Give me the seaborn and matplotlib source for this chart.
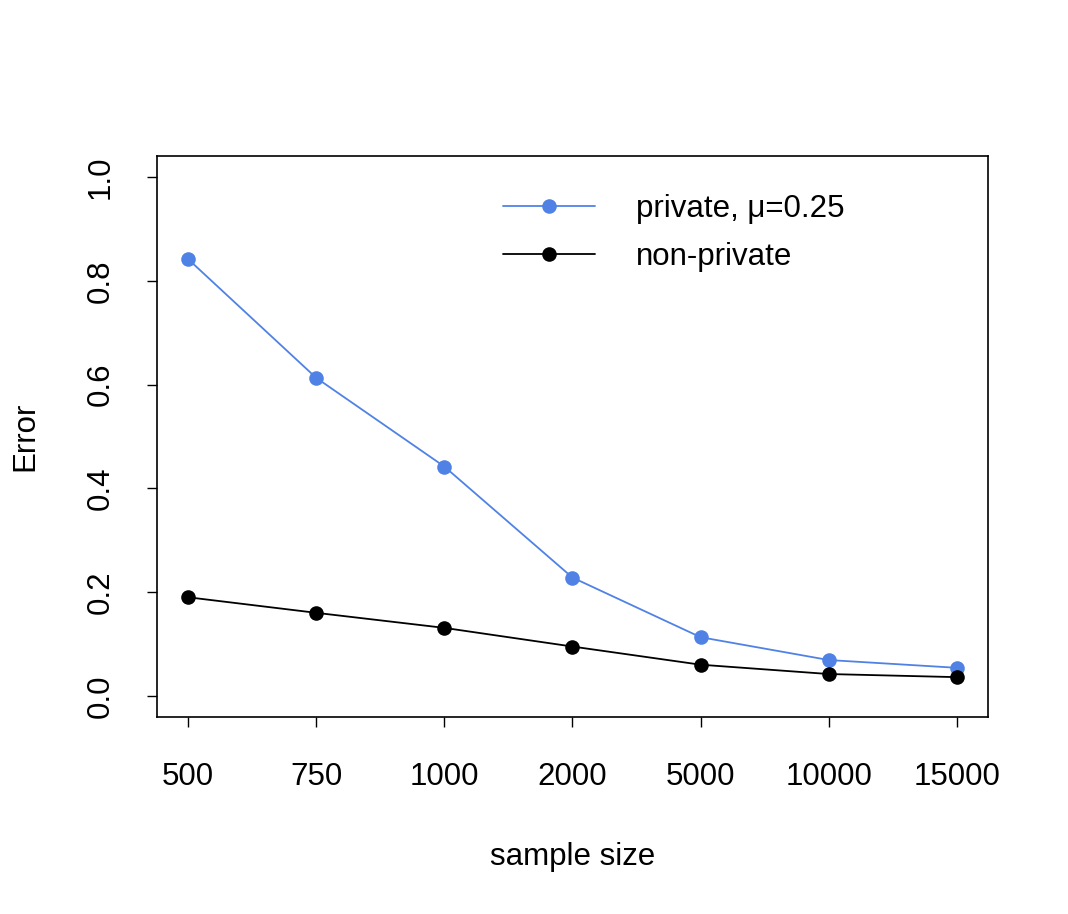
import matplotlib
matplotlib.use("Agg")
import matplotlib.pyplot as plt
import seaborn as sns
import pandas as pd

# values
sample_sizes = ["500", "750", "1000", "2000", "5000", "10000", "15000"]
private_err = [0.842, 0.613, 0.442, 0.228, 0.113, 0.069, 0.054]
nonprivate_err = [0.190, 0.160, 0.131, 0.095, 0.060, 0.042, 0.036]
series_names = ["private, μ=0.25", "non-private"]
series_colors = ["#5082E6", "black"]

sns.set_style("ticks")
plt.rcParams["font.family"] = ["Liberation Sans", "DejaVu Sans"]
plt.rcParams["text.color"] = "black"

FS = 22.5

pos = list(range(1, len(sample_sizes) + 1))
df = pd.concat([
    pd.DataFrame({"pos": pos, "err": private_err, "series": series_names[0]}),
    pd.DataFrame({"pos": pos, "err": nonprivate_err, "series": series_names[1]}),
])

fig = plt.figure(figsize=(10.68, 9.14), dpi=100)
ax = fig.add_axes([0.147, 0.216, 0.778, 0.613])

sns.lineplot(
    data=df, x="pos", y="err", hue="series",
    palette=dict(zip(series_names, series_colors)),
    marker="o", markersize=10.5, markeredgewidth=0,
    linewidth=1.3, ax=ax,
)

ax.set_xlim(0.758, 7.242)
ax.set_ylim(-0.04, 1.04)
ax.set_xticks(pos)
ax.set_xticklabels(sample_sizes)
ax.set_yticks([0.0, 0.2, 0.4, 0.6, 0.8, 1.0])
ax.set_yticklabels(["0.0", "0.2", "0.4", "0.6", "0.8", "1.0"], rotation=90, va="center")
ax.tick_params(axis="both", labelsize=FS, length=7, width=1, colors="black")
ax.tick_params(axis="x", pad=26)
ax.tick_params(axis="y", pad=23)
for sp in ax.spines.values():
    sp.set_visible(True)
    sp.set_linewidth(1.2)
    sp.set_color("black")

ax.set_xlabel("sample size", fontsize=FS, color="black")
ax.set_ylabel("Error", fontsize=FS, color="black")
ax.xaxis.set_label_coords(0.5, -0.251)
ax.xaxis.label.set_va("center")
ax.yaxis.set_label_coords(-0.159, 0.5)
ax.yaxis.label.set_va("center")

ax.legend(
    loc="upper left", bbox_to_anchor=(0.4164, 0.933), frameon=False,
    fontsize=FS, handlelength=2.95, handletextpad=1.3, labelspacing=0.57,
    borderpad=0, borderaxespad=0, title=None,
)

fig.savefig("out.png", dpi=100)
